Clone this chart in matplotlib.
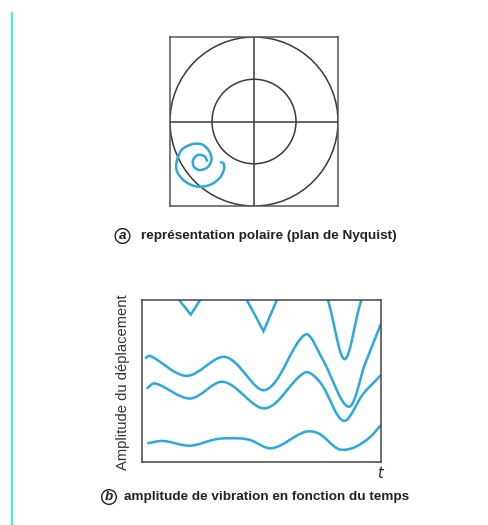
import numpy as np
import matplotlib
matplotlib.use("Agg")
import matplotlib.pyplot as plt
from matplotlib.path import Path
from matplotlib.patches import PathPatch, Circle

BLUE = "#29a9df"
DARK = "#3a3a3a"

# spiral in the Nyquist plane (outer circle radius = 2)
spiral_x = [-0.81, -0.73, -0.71, -0.81, -1.05, -1.36, -1.64, -1.83, -1.84, -1.72, -1.48,
            -1.25, -1.09, -1.01, -1.09, -1.29, -1.43, -1.45, -1.33, -1.17, -1.11]
spiral_y = [-0.96, -0.99, -1.11, -1.33, -1.50, -1.54, -1.42, -1.19, -0.95, -0.67, -0.54,
            -0.54, -0.67, -0.87, -1.07, -1.15, -1.07, -0.91, -0.79, -0.83, -0.95]

# displacement amplitude vs time, four records
t1 = [0.23, 0.90, 2.02, 3.14, 4.11, 4.53, 5.44, 6.83, 7.39, 8.23, 8.79, 9.48, 10.0]
a1 = [1.14, 1.28, 0.99, 1.40, 1.44, 1.34, 0.83, 1.85, 1.75, 0.78, 0.83, 1.44, 2.27]

t2 = [0.21, 0.56, 2.02, 3.41, 5.16, 6.83, 7.46, 8.44, 9.27, 10.0]
a2 = [4.53, 4.84, 3.91, 4.94, 3.30, 5.52, 4.90, 2.53, 4.22, 5.35]

t3 = [0.14, 0.35, 1.88, 3.49, 5.16, 6.83, 7.50, 8.64, 9.34, 10.0]
a3 = [6.38, 6.54, 5.31, 6.48, 4.43, 7.86, 6.50, 3.40, 6.07, 8.54]

t4 = [0.3, 1.57, 2.05, 2.44, 3.4, 4.39, 5.09, 5.65, 6.8, 7.78, 8.48, 9.18, 10.0]
a4 = [12.5, 10.0, 9.1, 10.0, 12.5, 10.0, 8.07, 10.0, 14.0, 10.0, 6.34, 10.0, 13.0]
t4_corners = [2, 6]   # the two pointed dips


def smooth_path(xs, ys, corners=()):
    # cubic bezier through the knots, handles scaled by chord length
    p = np.column_stack([xs, ys]).astype(float)
    n = len(p)
    sharp = [i == 0 or i == n - 1 or i in corners for i in range(n)]
    verts = [p[0]]
    codes = [Path.MOVETO]
    for i in range(n - 1):
        a, b = p[i], p[i + 1]
        d = np.hypot(*(b - a))
        if sharp[i]:
            c1 = a + (b - a) / 3
        else:
            dp = np.hypot(*(a - p[i - 1]))
            c1 = a + (b - p[i - 1]) * d / (dp + d) / 3
        if sharp[i + 1]:
            c2 = b - (b - a) / 3
        else:
            dn = np.hypot(*(p[i + 2] - b))
            c2 = b - (p[i + 2] - a) * d / (d + dn) / 3
        verts += [c1, c2, b]
        codes += [Path.CURVE4] * 3
    return Path(verts, codes)


fig = plt.figure(figsize=(4.88, 5.25), dpi=100)

# page margin rule
fig.add_artist(plt.Line2D([11.5 / 488, 11.5 / 488], [0, 1 - 13 / 525],
                          transform=fig.transFigure, color="#3ef0f0", lw=1.5))

# (a) polar plot
ax1 = fig.add_axes([170 / 488, 1 - 206 / 525, 168 / 488, 169 / 525])
ax1.set_xlim(-2, 2)
ax1.set_ylim(-2, 2)
for r in (2, 1):
    ax1.add_patch(Circle((0, 0), r, fill=False, ec=DARK, lw=1.1))
ax1.plot([-2, 2], [0, 0], color=DARK, lw=1.1)
ax1.plot([0, 0], [-2, 2], color=DARK, lw=1.1)
ax1.add_patch(PathPatch(smooth_path(spiral_x, spiral_y), fill=False, ec=BLUE, lw=1.8))
ax1.set_xticks([])
ax1.set_yticks([])
for s in ax1.spines.values():
    s.set_color("#555555")
    s.set_linewidth(1.1)

# (b) amplitude over time
ax2 = fig.add_axes([141.7 / 488, 1 - 461.7 / 525, 239.3 / 488, 161.7 / 525])
ax2.set_xlim(0, 10)
ax2.set_ylim(0, 10)
for tt, aa, cc in ((t1, a1, ()), (t2, a2, ()), (t3, a3, ()), (t4, a4, t4_corners)):
    ax2.add_patch(PathPatch(smooth_path(tt, aa, cc), fill=False, ec=BLUE, lw=1.8))
ax2.set_xticks([])
ax2.set_yticks([])
for s in ax2.spines.values():
    s.set_color("#444444")
    s.set_linewidth(1.1)
ax2.text(9.95, -0.25, "t", ha="center", va="top", style="italic",
         fontsize=10.5, color="#222222")
fig.text(123 / 488, 1 - 382 / 525, "Amplitude du déplacement", rotation=90,
         ha="center", va="center", fontsize=10.6, color="#333333",
         family="Liberation Sans")

# captions
cap = dict(fontsize=9.7, fontweight="bold", color="#222222", family="Liberation Sans",
           va="center")
circ = dict(boxstyle="circle,pad=0.1", fc="white", ec="#222222", lw=1.0)
fig.text(122.5 / 488, 1 - 236 / 525, "a", ha="center", style="italic",
         bbox=circ, **cap)
fig.text(141 / 488, 1 - 236 / 525, "représentation polaire (plan de Nyquist)",
         ha="left", **cap)
fig.text(109 / 488, 1 - 497 / 525, "b", ha="center", style="italic",
         bbox=circ, **cap)
fig.text(124.5 / 488, 1 - 497 / 525, "amplitude de vibration en fonction du temps",
         ha="left", **cap)

fig.savefig("out.png", dpi=100)
